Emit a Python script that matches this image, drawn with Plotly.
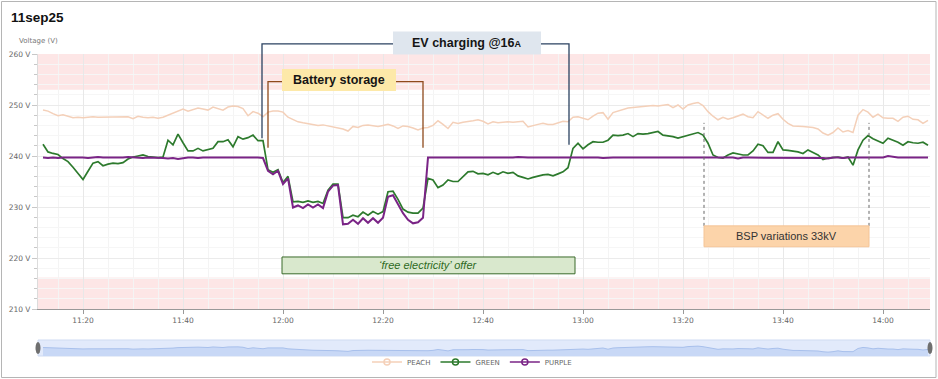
import plotly.graph_objects as go
import pandas as pd

# ---------------- data ----------------
DAY = "2025-09-11"
FIRST_SAMPLE = "11:12"
N_SAMPLES = 178  # one reading per minute, 11:12 .. 14:09
times = pd.date_range(f"{DAY} {FIRST_SAMPLE}", periods=N_SAMPLES, freq="1min")

series_names = ["PEACH", "GREEN", "PURPLE"]

peach = [
    249.0, 248.8, 248.3, 247.9, 248.1, 247.8, 247.5, 247.6, 247.5, 247.6,
    247.7, 247.6, 247.6, 247.7, 247.7, 247.6, 247.6, 247.7, 247.3, 247.8,
    247.6, 247.5, 247.6, 247.4, 247.6, 248.0, 248.4, 248.9, 249.2, 248.8,
    249.1, 249.4, 249.2, 249.0, 249.6, 249.3, 249.0, 249.6, 249.8, 249.7,
    249.3, 247.9, 248.7, 248.4, 247.7, 248.6, 248.8, 248.8, 248.6, 247.6,
    247.2, 246.7, 246.5, 246.3, 246.1, 246.0, 246.1, 245.9, 245.7, 245.5,
    245.3, 244.9, 245.8, 245.6, 246.0, 246.1, 246.0, 245.8, 246.0, 246.2,
    245.9, 245.4, 245.9, 245.8, 245.5, 245.1, 245.5, 245.6, 246.0, 246.9,
    246.2, 245.4, 246.6, 246.4, 246.6, 246.7, 246.9, 247.1, 246.8, 246.3,
    246.7, 246.5, 246.6, 246.7, 246.6, 246.7, 246.8, 245.7, 246.0, 246.2,
    246.4, 246.2, 246.2, 246.5, 246.8, 246.7, 247.6, 247.7, 247.4, 247.1,
    247.8, 248.4, 248.5, 247.2, 248.5, 248.8, 249.1, 249.4, 249.5, 249.6,
    249.7, 249.8, 249.9, 249.8, 250.0, 250.1, 249.5, 250.0, 249.2, 250.0,
    250.3, 250.5, 249.9, 248.7, 247.8, 247.1, 247.6, 247.2, 247.5, 247.9,
    248.2, 247.7, 247.5, 248.7, 248.0, 247.4, 248.0, 248.3, 247.2, 246.4,
    245.9, 245.9, 245.8, 245.7, 245.6, 245.3, 244.5, 244.1, 244.6, 245.5,
    244.7, 245.0, 244.6, 248.0, 249.1, 248.6, 247.6, 248.2, 247.5, 247.4,
    247.4, 246.8, 247.6, 247.8, 247.2, 247.1, 246.4, 247.0,
]

green = [
    242.3, 240.8, 240.5, 240.3, 239.5, 238.9, 237.8, 236.6, 235.4, 237.0,
    238.6, 238.9, 238.1, 238.4, 238.6, 238.5, 238.7, 239.4, 239.8, 240.0,
    240.2, 239.9, 239.8, 239.7, 239.8, 243.1, 242.2, 244.3, 242.6, 241.0,
    241.0, 241.5, 241.0, 241.2, 241.5, 242.8, 242.8, 243.2, 241.8, 243.8,
    243.3, 243.6, 244.1, 243.0, 243.0, 237.3, 236.8, 237.3, 234.8, 236.0,
    231.0, 231.1, 230.9, 231.2, 230.9, 231.1, 230.7, 233.3, 234.5, 234.5,
    227.9, 227.9, 228.4, 228.1, 229.0, 228.4, 229.1, 228.6, 229.1, 233.0,
    233.1, 231.5, 229.6, 229.0, 228.8, 228.8, 229.8, 235.6, 235.3, 233.8,
    234.3, 235.3, 235.0, 235.0, 236.0, 236.9, 237.0, 236.5, 236.6, 236.3,
    236.8, 236.4, 236.9, 236.6, 236.8, 236.1, 235.8, 235.5, 235.8, 236.1,
    236.3, 236.4, 236.1, 236.5, 236.9, 237.7, 241.5, 242.5, 241.4, 242.2,
    242.8, 242.7, 242.7, 243.1, 244.1, 244.0, 244.1, 244.4, 243.8, 244.4,
    244.3, 244.4, 244.6, 244.8, 244.1, 244.0, 243.8, 243.5, 243.8, 244.1,
    244.4, 244.6, 244.1, 242.5, 240.2, 239.7, 239.6, 240.2, 240.6, 240.4,
    240.2, 240.2, 241.0, 242.3, 242.0, 240.7, 240.7, 242.8, 241.2, 241.1,
    241.0, 240.8, 240.5, 241.2, 240.7, 240.2, 239.3, 239.6, 239.7, 239.8,
    239.6, 239.8, 238.2, 241.2, 243.1, 244.0, 243.4, 243.0, 242.5, 243.5,
    243.1, 242.7, 242.1, 242.8, 242.6, 242.5, 242.7, 242.1,
]

purple = [
    239.7, 239.6, 239.7, 239.6, 239.7, 239.7, 239.8, 239.7, 239.7, 239.6,
    239.7, 239.8, 239.7, 239.7, 239.6, 239.7, 239.7, 239.8, 239.7, 239.7,
    239.6, 239.7, 239.7, 239.7, 239.6, 239.5, 239.6, 239.4, 239.6, 239.7,
    239.7, 239.6, 239.7, 239.7, 239.7, 239.8, 239.7, 239.7, 239.7, 239.7,
    239.8, 239.7, 239.7, 239.7, 239.6, 237.1, 236.4, 237.1, 234.5, 235.6,
    229.9, 230.3, 229.8, 230.5, 229.9, 230.5, 229.8, 233.0, 234.2, 234.3,
    226.6, 226.7, 227.5, 226.7, 227.8, 226.9, 227.8, 226.9, 227.9, 232.0,
    232.3, 230.5, 228.8, 227.5, 226.8, 227.0, 227.9, 239.7, 239.7, 239.7,
    239.7, 239.7, 239.7, 239.7, 239.7, 239.7, 239.7, 239.7, 239.6, 239.7,
    239.7, 239.7, 239.7, 239.7, 239.7, 239.8, 239.7, 239.7, 239.7, 239.7,
    239.8, 239.7, 239.7, 239.7, 239.7, 239.7, 239.7, 239.7, 239.7, 239.7,
    239.7, 239.7, 239.6, 239.7, 239.7, 239.7, 239.7, 239.7, 239.7, 239.7,
    239.7, 239.7, 239.7, 239.7, 239.7, 239.6, 239.7, 239.7, 239.7, 239.7,
    239.7, 239.7, 239.7, 239.7, 239.7, 239.7, 239.7, 239.7, 239.7, 239.5,
    239.7, 239.7, 239.7, 239.7, 239.7, 239.7, 239.7, 239.7, 239.7, 239.7,
    239.6, 239.7, 239.7, 239.7, 239.7, 239.7, 239.6, 239.5, 239.7, 239.7,
    239.6, 239.7, 239.7, 239.7, 239.7, 239.7, 239.7, 239.7, 239.7, 240.0,
    239.8, 239.7, 239.7, 239.7, 239.7, 239.7, 239.7, 239.7,
]

y_range = [210, 260]
y_ticks = [210, 220, 230, 240, 250, 260]
y_tick_labels = ["210 V", "220 V", "230 V", "240 V", "250 V", "260 V"]
x_range = [f"{DAY} 11:11:00", f"{DAY} 14:09:24"]
upper_limit_band = [253.0, 260.0]   # +10 %
lower_limit_band = [210.0, 216.2]   # -6 %

# annotated periods (start, end)
ev_period = ("11:55:48", "12:57:12")
battery_period = ("11:57:00", "12:28:00")
offer_period = ("11:59:48", "12:58:24")
bsp_period = ("13:24:12", "13:57:12")

# ---------------- styling / geometry ----------------
colors = {"PEACH": "#f4d0b9", "GREEN": "#2d7a2d", "PURPLE": "#7a2486"}
widths = {"PEACH": 1.5, "GREEN": 1.7, "PURPLE": 2.0}
W, H = 938, 379
ML, MR, MT, MB = 38, 8, 54, 21
PW, PH = W - ML - MR, H - MT - MB
MAIN_DOM = [(H - MB - 309) / PH, 1.0]
NAV_DOM = [(H - MB - 356) / PH, (H - MB - 340) / PH]
FONT = "DejaVu Sans"
AFONT = "Liberation Sans, Arial, sans-serif"

t0 = pd.Timestamp(x_range[0])
t1 = pd.Timestamp(x_range[1])


def T(hms):
    return f"{DAY} {hms}"


def xp(hms):
    return (pd.Timestamp(T(hms)) - t0) / (t1 - t0)


def yp(v):
    return MAIN_DOM[0] + (v - y_range[0]) / (y_range[1] - y_range[0]) * (MAIN_DOM[1] - MAIN_DOM[0])


def mid(a, b):
    ta, tb = pd.Timestamp(T(a)), pd.Timestamp(T(b))
    return ta + (tb - ta) / 2


fig = go.Figure()

values = {"PEACH": peach, "GREEN": green, "PURPLE": purple}
for name in series_names:
    fig.add_trace(go.Scatter(
        x=times, y=values[name], mode="lines", name=name, legendgroup=name,
        showlegend=False, line=dict(color=colors[name], width=widths[name]),
        xaxis="x", yaxis="y"))
# legend entries
for name in series_names:
    fig.add_trace(go.Scatter(
        x=[None], y=[None], mode="lines+markers", name=name, legendgroup=name,
        line=dict(color=colors[name], width=1.5),
        marker=dict(symbol="circle-open", size=6, color=colors[name], line=dict(width=1.5))))

# navigator (range overview)
fig.add_trace(go.Scatter(
    x=times, y=peach, mode="lines", fill="tozeroy", showlegend=False, hoverinfo="skip",
    line=dict(color="#a8c0ec", width=1), fillcolor="#c8d8f6", xaxis="x2", yaxis="y2"))

shapes = []
# limit bands
for band in (upper_limit_band, lower_limit_band):
    shapes.append(dict(type="rect", xref="x domain", x0=0, x1=1, yref="y", y0=band[0], y1=band[1],
                       fillcolor="rgba(250,195,195,0.42)", line=dict(width=0), layer="below"))

# EV charging bracket
ev_top = 262.0
shapes.append(dict(type="path", xref="paper", yref="paper",
                   path=(f"M{xp(ev_period[0])},{yp(243.5)} L{xp(ev_period[0])},{yp(ev_top)} "
                         f"L{xp(ev_period[1])},{yp(ev_top)} L{xp(ev_period[1])},{yp(242.2)}"),
                   line=dict(color="#2b4261", width=1.3)))
shapes.append(dict(type="rect", xref="paper", yref="paper",
                   x0=xp("12:22:00"), x1=xp("12:51:36"), y0=yp(259.9), y1=yp(264.4),
                   fillcolor="#dfe6ee", line=dict(width=0)))
# Battery storage bracket
bat_top = 254.6
shapes.append(dict(type="path", xref="paper", yref="paper",
                   path=(f"M{xp(battery_period[0])},{yp(241.6)} L{xp(battery_period[0])},{yp(bat_top)} "
                         f"L{xp(battery_period[1])},{yp(bat_top)} L{xp(battery_period[1])},{yp(241.6)}"),
                   line=dict(color="#8e4a1c", width=1.3)))
shapes.append(dict(type="rect", xref="paper", yref="paper",
                   x0=xp("11:59:48"), x1=xp("12:22:36"), y0=yp(252.75), y1=yp(257.06),
                   fillcolor="#fde9a9", line=dict(width=0)))
# free electricity offer box
shapes.append(dict(type="rect", xref="x", yref="y", x0=T(offer_period[0]), x1=T(offer_period[1]),
                   y0=216.9, y1=220.2, fillcolor="#d9e8cd", line=dict(color="#3b6b2b", width=1)))
# BSP variations
for t in bsp_period:
    shapes.append(dict(type="line", xref="x", yref="y", x0=T(t), x1=T(t), y0=226.3, y1=246.5,
                       line=dict(color="#666", width=1, dash="dot")))
shapes.append(dict(type="rect", xref="x", yref="y", x0=T(bsp_period[0]), x1=T(bsp_period[1]),
                   y0=222.2, y1=226.3, fillcolor="#fcd4aa", line=dict(color="#f4c496", width=1)))
# navigator background + handles
shapes.append(dict(type="rect", xref="x2 domain", yref="y2 domain", x0=0, x1=1, y0=0, y1=1,
                   fillcolor="#e2eafb", line=dict(color="#cfdbf2", width=1), layer="below"))
for xa in (0, 1):
    shapes.append(dict(type="circle", xref="x2 domain", yref="y2 domain",
                       xsizemode="pixel", ysizemode="pixel", xanchor=xa, yanchor=0.5,
                       x0=-2.5, x1=2.5, y0=-6, y1=6, fillcolor="#6f6f6f", line=dict(width=0)))
# outer frame
shapes.append(dict(type="rect", xref="paper", yref="paper",
                   x0=(1.5 - ML) / PW, x1=(W - 2 - ML) / PW,
                   y0=(H - MB - (H - 1.5)) / PH, y1=(H - MB - 1.5) / PH,
                   line=dict(color="#b5b5b5", width=1), fillcolor="rgba(0,0,0,0)"))

annotations = [
    dict(text="<b>11sep25</b>", xref="paper", yref="paper", x=(9 - ML) / PW, y=(H - MB - 18) / PH,
         xanchor="left", yanchor="middle", showarrow=False, font=dict(family=AFONT, size=13.5, color="#111")),
    dict(text="Voltage (V)", xref="paper", yref="paper", x=(17 - ML) / PW, y=(H - MB - 41) / PH,
         xanchor="left", yanchor="middle", showarrow=False, font=dict(family=FONT, size=7, color="#777")),
    dict(text="<b>EV charging @16<span style='font-size:9px'>A</span></b>", xref="paper", yref="paper",
         x=xp("12:36:48"), y=yp(262.1), xanchor="center", yanchor="middle", showarrow=False,
         font=dict(family=AFONT, size=12.5, color="#151515")),
    dict(text="<b>Battery storage</b>", xref="paper", yref="paper",
         x=xp("12:11:12"), y=yp(254.9), xanchor="center", yanchor="middle", showarrow=False,
         font=dict(family=AFONT, size=12.5, color="#151515")),
    dict(text="<i>‘free electricity’ offer</i>", xref="x", yref="y",
         x=mid(*offer_period), y=218.55, xanchor="center", yanchor="middle", showarrow=False,
         font=dict(family=AFONT, size=11, color="#2e6a1e")),
    dict(text="BSP variations 33kV", xref="x", yref="y",
         x=mid(*bsp_period), y=224.25, xanchor="center", yanchor="middle", showarrow=False,
         font=dict(family=AFONT, size=11, color="#333")),
]

fig.update_layout(
    width=W, height=H,
    margin=dict(l=ML, r=MR, t=MT, b=MB, autoexpand=False),
    paper_bgcolor="white", plot_bgcolor="white",
    shapes=shapes, annotations=annotations,
    showlegend=True,
    legend=dict(orientation="h", x=(472 - ML) / PW, xanchor="center",
                y=(H - MB - 362) / PH, yanchor="middle",
                font=dict(family=FONT, size=7, color="#666"), bgcolor="rgba(0,0,0,0)",
                itemwidth=30, tracegroupgap=0),
    xaxis=dict(type="date", range=x_range, domain=[0, 1], anchor="y",
               tickformat="%H:%M", dtick=20 * 60 * 1000, tick0=T("11:20"),
               showgrid=True, gridcolor="#e8e8e8", gridwidth=1,
               minor=dict(dtick=5 * 60 * 1000, showgrid=True, gridcolor="#f4f4f4"),
               ticks="outside", ticklen=4, tickcolor="#999",
               showline=True, linecolor="#999", linewidth=1, zeroline=False,
               tickfont=dict(family=FONT, size=7.5, color="#666")),
    yaxis=dict(range=y_range, domain=MAIN_DOM, anchor="x",
               tickmode="array", tickvals=y_ticks, ticktext=y_tick_labels,
               showgrid=True, gridcolor="#ebebeb",
               minor=dict(dtick=2, showgrid=True, gridcolor="#f6f6f6",
                          ticks="outside", ticklen=3, tickcolor="#c8c8c8"),
               ticks="outside", ticklen=5, tickcolor="#c8c8c8",
               showline=True, linecolor="#dcdcdc", zeroline=False,
               tickfont=dict(family=FONT, size=7.5, color="#666")),
    xaxis2=dict(type="date", range=x_range, domain=[0, 1], anchor="y2", visible=False),
    yaxis2=dict(range=[240, 257], domain=NAV_DOM, anchor="x2", visible=False, fixedrange=True),
)

fig.write_html("out.html")
